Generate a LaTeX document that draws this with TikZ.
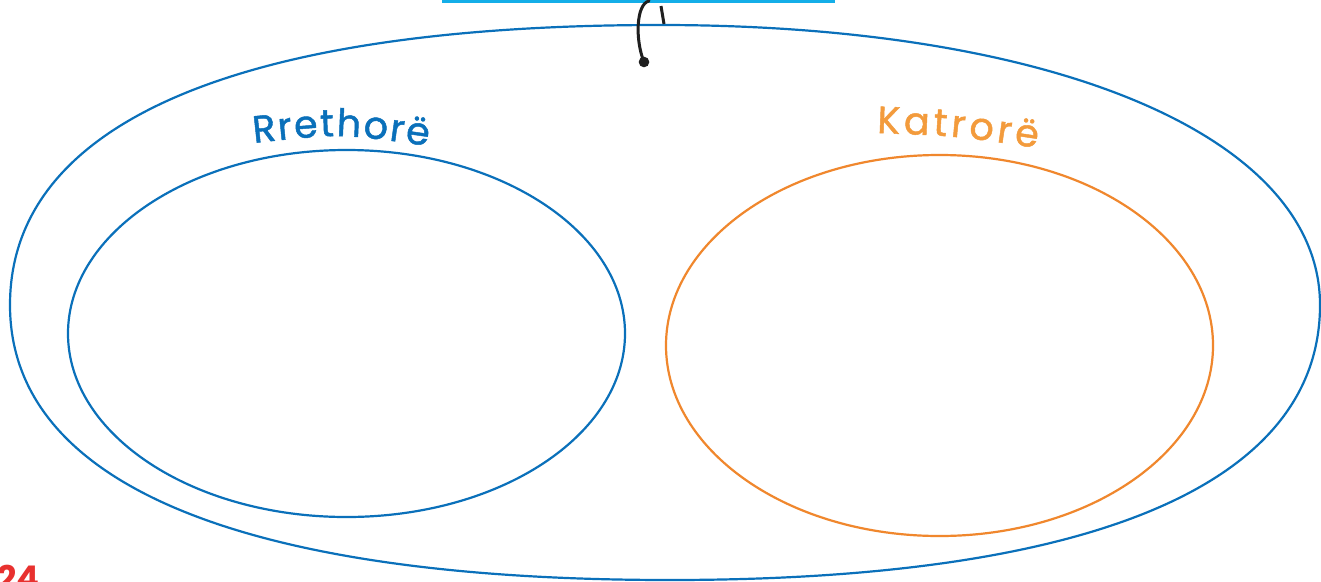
\documentclass[tikz,border=0pt]{standalone}
\usepackage{fontspec}
\setmainfont{Poppins}
\newfontfamily\lblfam[FakeBold=1.2]{Poppins}
\usetikzlibrary{decorations.text}
\definecolor{rblue}{RGB}{10,112,186}
\definecolor{korange}{RGB}{240,135,45}
\definecolor{klabel}{RGB}{243,155,60}
\definecolor{boxcyan}{RGB}{20,174,232}
\definecolor{pagered}{RGB}{232,49,47}
\newcommand{\lblfont}{\lblfam\fontsize{38}{44}\selectfont}
\tikzset{
  setline/.style={line width=2.2pt},
  link/.style={line width=3pt, black!88, line cap=round},
  curvelabel/.style={decorate, decoration={text along path, text align=fit to path}}
}
\begin{document}
\begin{tikzpicture}[x=1pt,y=1pt]
\path[use as bounding box, clip] (0,0) rectangle (1321,-581);
\fill[white] (0,0) rectangle (1321,-581);
% top box
\node[draw=boxcyan, line width=3pt, minimum width=390pt, minimum height=30pt, inner sep=0pt, anchor=south west] (box) at (442,-2.5) {};
% outer shape
\coordinate (L) at (10,-305);
\coordinate (T) at (660,-25);
\coordinate (R) at (1320,-305);
\coordinate (B) at (670,-580);
\draw[setline, rblue] (L) .. controls (10,-123) and (237,-25) .. (T)
  .. controls (1056,-25) and (1320,-137) .. (R)
  .. controls (1320,-484) and (1093,-580) .. (B)
  .. controls (241,-580) and (10,-484) .. (L) -- cycle;
% inner ellipses
\draw[setline, rblue] (346.5,-333.5) ellipse [x radius=278.5, y radius=183.5];
\draw[setline, korange] (939.5,-345.5) ellipse [x radius=273.5, y radius=190.5];
% connector
\coordinate (start) at (649,-1);
\coordinate (dot) at (644,-62);
\draw[link] (start) .. controls (636,-4) and (635,-40) .. (dot);
\fill[black!88] (dot) circle (5.3);
\coordinate (s1) at (661,-6);
\coordinate (s2) at (664,-24);
\draw[link, line cap=butt] (s1) -- (s2);
% labels
\path[curvelabel, decoration={text={|\lblfont\color{rblue}|Rrethorë}}] (254,-143) .. controls (341,-133.5) .. (428,-146);
\path[curvelabel, decoration={text={|\lblfont\color{klabel}|Katrorë}}] (877,-133) .. controls (957,-136) .. (1037,-148);
% page number
\node[anchor=base west, inner sep=0pt, text=pagered, font=\fontsize{34}{40}\selectfont\bfseries] (pg) at (-3,-590) {24};
\end{tikzpicture}
\end{document}
